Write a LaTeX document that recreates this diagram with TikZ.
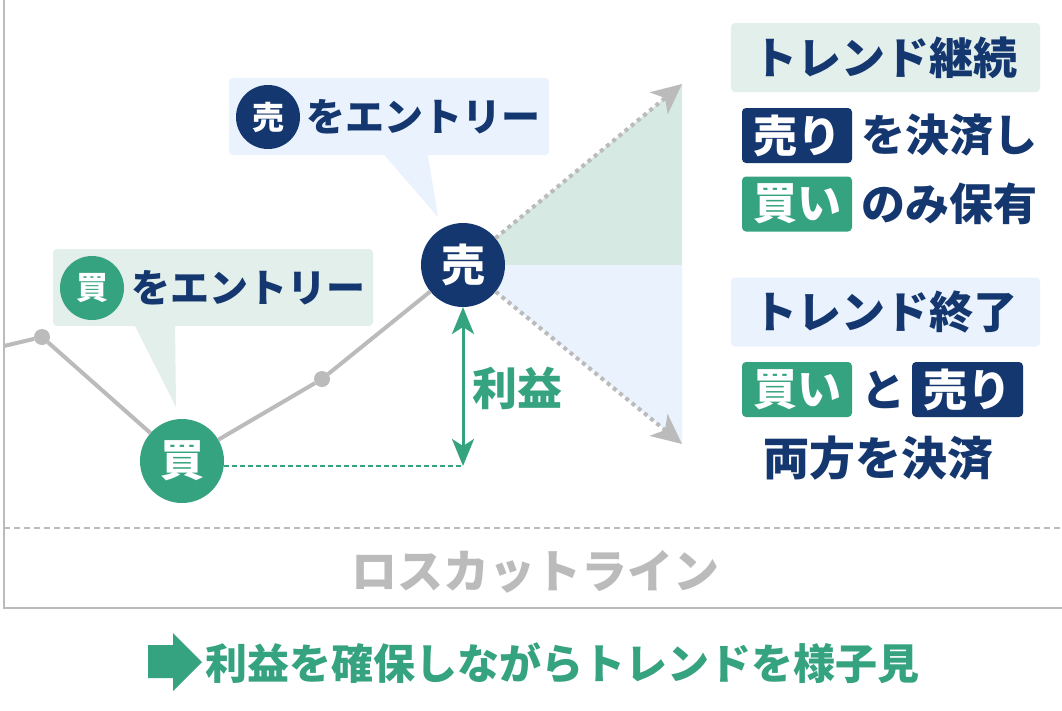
\documentclass[tikz,border=0pt]{standalone}
\usepackage{fontspec}
\usetikzlibrary{arrows.meta}
\newfontfamily\jp{Noto Sans CJK JP}
\newcommand\myfs[1]{\fontsize{#1}{#1}\selectfont}
\definecolor{navy}{HTML}{15376F}
\definecolor{grn}{HTML}{35A37F}
\definecolor{lgrn}{HTML}{E2EFEA}
\definecolor{fgrn}{HTML}{D6E9E2}
\definecolor{lblue}{HTML}{E9F2FD}
\definecolor{gry}{HTML}{BBBBBB}
\begin{document}
\begin{tikzpicture}[x=1pt,y=-1pt,
  every node/.style={inner sep=0pt, outer sep=0pt},
  pt/.style={circle, fill=gry, minimum size=16pt},
  bigc/.style={circle, minimum size=84pt, text=white, font=\jp\bfseries\myfs{44pt}},
  smallc/.style={circle, minimum size=64pt, text=white, font=\jp\bfseries\myfs{32pt}},
  callbox/.style={rounded corners=4pt, anchor=north west, minimum width=320pt, minimum height=77pt},
  tag/.style={rounded corners=4pt, minimum width=110pt, minimum height=55pt, text=white, font=\jp\bfseries\myfs{44pt}},
  headbox/.style={rounded corners=4pt, minimum width=309pt, minimum height=69pt, text=navy, font=\jp\bfseries\myfs{44pt}},
  txt/.style={text=navy, font=\jp\bfseries\myfs{44pt}},
  ctxt/.style={text=navy, font=\jp\bfseries\myfs{39pt}, anchor=west},
  grayarrow/.style={gry, line width=4pt, dash pattern=on 4pt off 4pt, -{Stealth[length=30pt,width=28pt,inset=8pt]}},
  grnarrow/.style={grn, line width=3pt, {Stealth[length=27pt,width=22pt,inset=7pt]}-{Stealth[length=27pt,width=22pt,inset=7pt]}}
]
\useasboundingbox (0,0) rectangle (1062,710);
\fill[white] (0,0) rectangle (1062,710);

% fan regions
\coordinate (tu) at (682,84);
\coordinate (td) at (682,444);
\coordinate (rm) at (682,265);
\coordinate (sc) at (463,265);
\fill[fgrn] (sc) -- (tu) -- (rm) -- cycle;
\fill[lblue] (sc) -- (rm) -- (td) -- cycle;

% axes and loss-cut line
\coordinate (axtop) at (4,0);
\coordinate (axo) at (4,608);
\coordinate (axr) at (1062,608);
\draw[gry, line width=2pt] (axtop) -- (axo) -- (axr);
\coordinate (ll) at (4,528);
\coordinate (lr) at (1062,528);
\draw[gry, line width=2pt, dash pattern=on 6pt off 4pt] (ll) -- (lr);
\node[text=gry, font=\jp\bfseries\myfs{46pt}] (losscut) at (535,572) {ロスカットライン};

% price nodes
\coordinate (p0) at (4,346);
\node[pt] (d1) at (42,337) {};
\node[bigc, fill=grn] (buy) at (182,461) {買};
\node[pt] (d2) at (322,379) {};
\node[bigc, fill=navy] (sell) at (463,265) {売};
\draw[gry, line width=4pt] (p0) -- (d1) -- (buy) -- (d2) -- (sell);

% dotted arrows
\draw[grayarrow] (sell) -- (tu);
\draw[grayarrow] (sell) -- (td);

% profit
\coordinate (pb) at (463,466);
\draw[grn, line width=2pt, dash pattern=on 5pt off 3pt] (buy.east |- pb) -- (pb);
\draw[grnarrow] (sell) -- (pb);
\node[text=grn, font=\jp\bfseries\myfs{45pt}, anchor=west] (rieki) at (472,388) {利益};

% sell callout
\node[callbox, fill=lblue] (cs) at (229,78) {};
\coordinate (cstip) at (438,217);
\fill[lblue] (380,150) -- (427,150) -- (cstip) -- cycle;
\node[smallc, fill=navy] (cs1) at (268,117) {売};
\node[ctxt] (cs2) at (306,117) {をエントリー};

% buy callout
\node[callbox, fill=lgrn] (cb) at (53,249) {};
\coordinate (cbtip) at (176,407);
\fill[lgrn] (133,322) -- (175,322) -- (cbtip) -- cycle;
\node[smallc, fill=grn] (cb1) at (92,288) {買};
\node[ctxt] (cb2) at (131,288) {をエントリー};

% right panel
\node[headbox, fill=lgrn] (h1) at (885.5,57.5) {トレンド継続};
\node[tag, fill=navy] (t1) at (797,135.5) {売り};
\node[txt, anchor=west] (r1) at (861,135.5) {を決済し};
\node[tag, fill=grn] (t2) at (797,204) {買い};
\node[txt, anchor=west] (r2) at (861,204) {のみ保有};
\node[headbox, fill=lblue] (h2) at (885.5,312) {トレンド終了};
\node[tag, fill=grn] (t3) at (797,389.5) {買い};
\node[txt] (r3) at (883,389.5) {と};
\node[tag, fill=navy, minimum width=111pt] (t4) at (967.5,389.5) {売り};
\node[txt, font=\jp\bfseries\myfs{46pt}] (r4) at (878.5,458) {両方を決済};

% bottom conclusion
\fill[grn] (148,645) -- (173,645) -- (173,633) -- (202,662) -- (173,691) -- (173,678) -- (148,678) -- cycle;
\node[text=grn, font=\jp\bfseries\myfs{42pt}, anchor=west] (concl) at (205,663) {利益を確保しながらトレンドを様子見};
\end{tikzpicture}
\end{document}
